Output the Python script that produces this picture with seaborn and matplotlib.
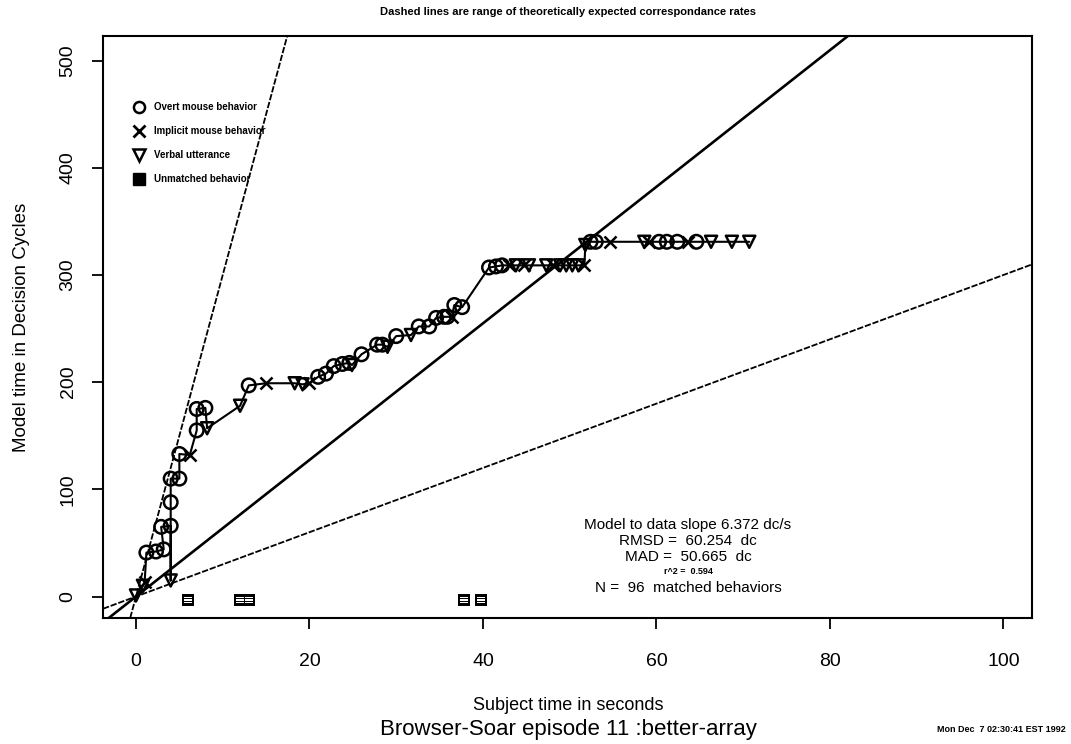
import numpy as np
import pandas as pd
import matplotlib
matplotlib.use("Agg")
import matplotlib.pyplot as plt
from matplotlib.lines import Line2D
import seaborn as sns

# Matched behaviours in episode order: subject time (s), model time (decision cycles), kind
subject_time = [0.0, 0.8, 1.0, 1.2, 2.3, 3.2, 2.9, 4.0, 4.0, 4.0, 4.0, 5.0, 5.0, 6.2,
                7.0, 7.0, 8.0, 8.2, 12.0, 13.0, 15.0, 18.3, 19.2, 20.0, 21.0, 21.9,
                22.8, 23.8, 24.6, 24.9, 26.0, 27.8, 28.4, 29.0, 30.0, 31.7, 32.6, 33.8,
                34.6, 35.5, 35.9, 36.4, 36.7, 37.6, 40.7, 41.5, 42.2, 43.0, 43.8, 44.7,
                45.3, 47.3, 48.1, 48.9, 49.6, 50.3, 51.0, 51.7, 51.8, 52.4, 53.0, 54.6,
                58.6, 59.2, 60.3, 61.2, 62.4, 63.6, 64.6, 66.3, 68.7, 70.7]
model_time = [1, 10, 14, 41, 42, 44, 65, 66, 15, 88, 110, 110, 133, 132,
              155, 175, 176, 157, 178, 197, 199, 199, 198, 199, 205, 208,
              215, 217, 218, 216, 226, 235, 235, 233, 243, 244, 252, 252,
              260, 261, 261, 261, 272, 270, 307, 308, 309, 309, 309, 309,
              309, 309, 309, 309, 309, 309, 309, 309, 328, 331, 331, 331,
              331, 331, 331, 331, 331, 331, 331, 331, 331, 331]
behavior_kind = ["verbal", "verbal", "implicit", "overt", "overt", "overt", "overt", "overt",
                 "verbal", "overt", "overt", "overt", "overt", "implicit",
                 "overt", "overt", "overt", "verbal", "verbal", "overt", "implicit", "verbal",
                 "verbal", "implicit", "overt", "overt",
                 "overt", "overt", "overt", "verbal", "overt", "overt", "overt", "verbal",
                 "overt", "verbal", "overt", "overt",
                 "overt", "overt", "overt", "implicit", "overt", "overt", "overt", "overt",
                 "overt", "implicit", "verbal", "implicit",
                 "verbal", "verbal", "implicit", "verbal", "verbal", "verbal", "verbal", "implicit",
                 "verbal", "overt", "overt", "implicit",
                 "verbal", "implicit", "overt", "overt", "overt", "implicit", "overt", "verbal",
                 "verbal", "verbal"]

# Behaviours the model never matched, shown just under the zero line
unmatched_time = [6.0, 12.0, 13.0, 37.8, 39.8]
unmatched_level = [-3, -3, -3, -3, -3]

# Fitted slope and the theoretically expected range (dc/s)
fit_slope = 6.372
range_slopes = [3.0, 30.0]

x_ticks = [0, 20, 40, 60, 80, 100]
y_ticks = [0, 100, 200, 300, 400, 500]

kind_labels = {"overt": "Overt mouse behavior",
               "implicit": "Implicit mouse behavior",
               "verbal": "Verbal utterance"}
stats_lines = ["Model to data slope 6.372 dc/s",
               "RMSD =  60.254  dc",
               "MAD =  50.665  dc",
               "r^2 =  0.594",
               "N =  96  matched behaviors"]

df = pd.DataFrame({"subject": subject_time, "model": model_time, "kind": behavior_kind})
unmatched = pd.DataFrame({"subject": unmatched_time, "model": unmatched_level})

sns.set_theme(style="ticks")
plt.rcParams["font.family"] = ["Liberation Sans", "DejaVu Sans"]
plt.rcParams["text.color"] = "black"
plt.rcParams["axes.labelcolor"] = "black"
plt.rcParams["xtick.color"] = "black"
plt.rcParams["ytick.color"] = "black"

fig = plt.figure(figsize=(10.71, 7.44), dpi=100)
ax = fig.add_axes([0.0962, 0.1694, 0.8674, 0.7822])
ax.set_xlim(-3.8, 103.3)
ax.set_ylim(-20, 523)

# reference lines through the origin
ax.axline((0, 0), slope=fit_slope, color="black", lw=1.9, zorder=1)
for s in range_slopes:
    ax.axline((0, 0), slope=s, color="black", lw=1.3, ls=(0, (3.5, 1.0)), zorder=1)

# behaviour trace
sns.lineplot(data=df, x="subject", y="model", sort=False, estimator=None,
             color="black", lw=1.5, ax=ax, zorder=2)

marker_style = {"overt": ("o", 95), "implicit": ("x", 75), "verbal": ("v", 75)}
for kind, (mk, size) in marker_style.items():
    sub = df[df["kind"] == kind]
    sns.scatterplot(data=sub, x="subject", y="model", marker=mk, s=size,
                    color="black", linewidth=1.8, ax=ax, zorder=3)
    pts = ax.collections[-1]
    if mk != "x":
        pts.set_facecolor("none")
    pts.set_edgecolor("black")
    pts.set_linewidth(1.8)

sns.scatterplot(data=unmatched, x="subject", y="model", marker="s", s=80,
                color="black", linewidth=0, ax=ax, zorder=3)
ax.scatter(unmatched["subject"], unmatched["model"], marker=r"$\equiv$", s=30,
           color="white", linewidths=0, zorder=4)

# frame and ticks
for sp in ax.spines.values():
    sp.set_visible(True)
    sp.set_color("black")
    sp.set_linewidth(1.5)
ax.set_xticks(x_ticks)
ax.set_yticks(y_ticks)
ax.set_xticklabels([str(v) for v in x_ticks])
ax.set_yticklabels([str(v) for v in y_ticks], rotation=90, va="center")
ax.tick_params(axis="both", direction="out", length=8, width=1.3, colors="black",
               labelsize=14)
ax.tick_params(axis="x", pad=17)
ax.tick_params(axis="y", pad=11)
ax.set_xlabel("")
ax.set_ylabel("")
ax.grid(False)

# legend
handles = [Line2D([], [], ls="none", marker="o", ms=8, mfc="none", mec="black", mew=1.8),
           Line2D([], [], ls="none", marker="x", ms=8, mec="black", mew=2.0),
           Line2D([], [], ls="none", marker="v", ms=8, mfc="none", mec="black", mew=1.8),
           Line2D([], [], ls="none", marker="s", ms=8, mfc="black", mec="black")]
labels = [kind_labels["overt"], kind_labels["implicit"], kind_labels["verbal"],
          "Unmatched behavior"]
ax.legend(handles, labels, loc="upper left", bbox_to_anchor=(0.029, 0.893),
          frameon=False, prop={"size": 7, "weight": "bold"}, handlelength=1.0,
          handletextpad=1.1, labelspacing=1.45, borderaxespad=0)

# fit statistics
stat_y = [525, 541, 557, 572, 588]
stat_size = [11, 11, 11, 6.5, 11]
for txt, ypx, sz in zip(stats_lines, stat_y, stat_size):
    fig.text(688 / 1071, 1 - ypx / 744, txt, ha="center", va="center", fontsize=sz,
             weight="bold" if sz < 8 else "normal")

fig.text(568 / 1071, 1 - 12 / 744,
         "Dashed lines are range of theoretically expected correspondance rates",
         ha="center", va="center", fontsize=8, weight="bold")
fig.text(568 / 1071, 1 - 705 / 744, "Subject time in seconds",
         ha="center", va="center", fontsize=13)
fig.text(22 / 1071, 1 - 327 / 744, "Model time in Decision Cycles",
         ha="center", va="center", rotation=90, fontsize=13.5)
fig.text(568 / 1071, 1 - 729 / 744, "Browser-Soar episode 11 :better-array",
         ha="center", va="center", fontsize=16)
fig.text(1001 / 1071, 1 - 729 / 744, "Mon Dec  7 02:30:41 EST 1992",
         ha="center", va="center", fontsize=6.5, weight="bold")

fig.savefig("out.png", dpi=100)
